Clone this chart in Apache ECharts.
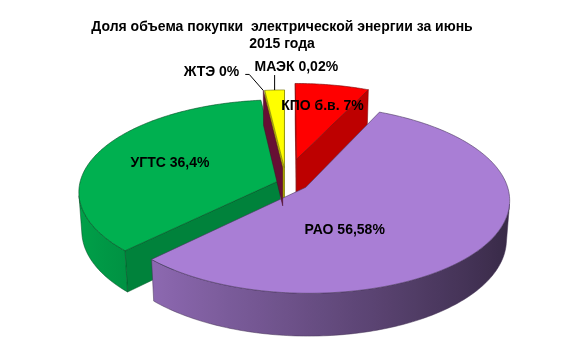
<!DOCTYPE html>
<html>
<head>
<meta charset="utf-8">
<script src="https://cdn.jsdelivr.net/npm/echarts@6/dist/echarts.min.js"></script>
<style>
html, body { margin: 0; padding: 0; background: #fff; }
#chart { width: 574px; height: 352px; }
</style>
</head>
<body>
<div id="chart"></div>
<script>
// данные диаграммы (по часовой стрелке от 12 часов)
const names = ['КПО б.в.', 'РАО', 'УГТС', 'ЖТЭ', 'МАЭК']
const values = [7, 56.58, 36.4, 0, 0.02]
const titleText = 'Доля объема покупки  электрической энергии за июнь\n2015 года'

// оформление
const colors = ['#ff0000', '#a97ed5', '#00b050', '#8a1446', '#ffff00']
const explode = [0.25, 0.12, 0.03, 0.15, 0.15]
// подписи: r - доля радиуса, angle - угол (null = середина сектора), leader - выноска
const labelCfg = [
  { r: 0.7, angle: null },
  { r: 0.47, angle: 158 },
  { r: 0.6, angle: null },
  { leader: [[-14, -16], [-18, -16]], align: 'right', dx: -24, dy: -18 },
  { leader: [[0, -15]], align: 'left', dx: -20, dy: -23 }
]
const view = { cx: 286, cy: 181, k: 200, dist: 7, tilt: 27, depth: 0.22, minAngle: 6.5 }

const rad = d => d * Math.PI / 180

function project(X, Y, Z) {
  const a = rad(view.tilt)
  const yc = Y * Math.cos(a) - Z * Math.sin(a)
  const zc = view.dist - Y * Math.sin(a) - Z * Math.cos(a)
  const s = view.k * view.dist / zc
  return [view.cx + X * s, view.cy - yc * s]
}

function shade(hex, f) {
  const n = parseInt(hex.slice(1), 16)
  const r = Math.min(255, Math.round(((n >> 16) & 255) * f))
  const g = Math.min(255, Math.round(((n >> 8) & 255) * f))
  const b = Math.min(255, Math.round((n & 255) * f))
  return 'rgb(' + r + ',' + g + ',' + b + ')'
}

// углы секторов; ненулевым маленьким - минимальный угол, нулевой - только грань
function sliceAngles() {
  const total = values.reduce((a, b) => a + b, 0)
  const isSmall = v => v > 0 && v / total * 360 < view.minAngle
  let small = 0
  let rest = 0
  values.forEach(v => {
    if (isSmall(v)) small++
    else rest += v
  })
  const free = 360 - small * view.minAngle
  let start = 0
  return values.map(v => {
    const span = isSmall(v) ? view.minAngle : v / rest * free
    const s = { start: start, end: start + span, mid: start + span / 2 }
    start += span
    return s
  })
}
const slices = sliceAngles()
// порядок отрисовки: от дальних к ближним, нулевые грани - поверх
const depthKey = i => (slices[i].end - slices[i].start < 0.5 ? 10 : -Math.cos(rad(slices[i].mid)))
const order = slices.map((s, i) => i).sort((a, b) => depthKey(a) - depthKey(b))
const rank = []
order.forEach((idx, r) => { rank[idx] = r })

function offset(i) {
  const m = rad(slices[i].mid)
  return [explode[i] * Math.sin(m), -explode[i] * Math.cos(m)]
}
function pt(i, th, r, Y) {
  const o = offset(i)
  const t = rad(th)
  return project(o[0] + r * Math.sin(t), Y, o[1] - r * Math.cos(t))
}
// видна ли грань с нормалью в плоскости круга
function facing(nx, nz, px, pz) {
  const a = rad(view.tilt)
  return (0 - px) * nx + (view.dist * Math.cos(a) - pz) * nz > 0
}
function wallShade(t) {
  return 0.62 - 0.3 * Math.sin(rad(t))
}

function formatValue(v) {
  return String(v).replace('.', ',') + '%'
}

function renderItem(params, api) {
  const i = params.dataIndex
  const s = slices[i]
  const c = colors[i]
  const base = rank[i] * 10
  const h = -view.depth
  const o = offset(i)
  const children = []

  // боковые радиальные грани
  ;[[s.start, s.start - 90], [s.end, s.end + 90]].forEach(e => {
    const phi = rad(e[1])
    if (!facing(Math.sin(phi), -Math.cos(phi), o[0], o[1])) return
    children.push({
      type: 'polygon',
      z2: base,
      shape: { points: [pt(i, e[0], 0, 0), pt(i, e[0], 1, 0), pt(i, e[0], 1, h), pt(i, e[0], 0, h)] },
      style: { fill: shade(c, 0.74), stroke: shade(c, 0.5), lineWidth: 0.5 }
    })
  })

  if (s.end - s.start > 0.5) {
    // внешняя стенка: видимые участки дуги
    const vis = []
    for (let t = s.start; t <= s.end + 0.001; t += 0.5) {
      const tr = rad(t)
      vis.push([t, facing(Math.sin(tr), -Math.cos(tr), o[0] + Math.sin(tr), o[1] - Math.cos(tr))])
    }
    const segs = []
    let cur = null
    vis.forEach(v => {
      if (v[1]) {
        if (!cur) { cur = [v[0], v[0]]; segs.push(cur) }
        cur[1] = v[0]
      } else cur = null
    })
    segs.forEach(sg => {
      if (sg[1] - sg[0] < 0.5) return
      const topPts = []
      const botPts = []
      const samples = []
      for (let t = sg[0]; t <= sg[1] + 0.001; t += 1) samples.push(Math.min(t, sg[1]))
      if (samples[samples.length - 1] < sg[1]) samples.push(sg[1])
      samples.forEach(t => {
        topPts.push(pt(i, t, 1, 0))
        botPts.push(pt(i, t, 1, h))
      })
      const xs = topPts.map(p => p[0])
      const x0 = Math.min.apply(null, xs)
      const x1 = Math.max.apply(null, xs)
      const stops = []
      for (let k = 0; k < samples.length; k += 4) {
        stops.push({ offset: x1 > x0 ? (topPts[k][0] - x0) / (x1 - x0) : 0, color: shade(c, wallShade(samples[k])) })
      }
      stops.sort((a, b) => a.offset - b.offset)
      children.push({
        type: 'polygon',
        z2: base + 1,
        shape: { points: topPts.concat(botPts.reverse()) },
        style: {
          fill: { type: 'linear', x: x0, y: 0, x2: x1, y2: 0, global: true, colorStops: stops },
          stroke: shade(c, 0.4),
          lineWidth: 0.5
        }
      })
    })

    // верхняя грань
    const top = [pt(i, s.start, 0, 0)]
    for (let t = s.start; t < s.end; t += 1) top.push(pt(i, t, 1, 0))
    top.push(pt(i, s.end, 1, 0))
    children.push({
      type: 'polygon',
      z2: base + 2,
      shape: { points: top },
      style: { fill: c, stroke: shade(c, 0.45), lineWidth: 0.6 }
    })
  }

  // подпись
  const lc = labelCfg[i]
  const text = names[i] + ' ' + formatValue(api.value(1))
  const font = 'bold 14px "Liberation Sans", Arial, sans-serif'
  if (lc.leader) {
    const p0 = pt(i, s.mid, 1, 0)
    const pts = [p0].concat(lc.leader.map(d => [p0[0] + d[0], p0[1] + d[1]]))
    children.push({ type: 'polyline', z2: 99, shape: { points: pts }, style: { stroke: '#000', lineWidth: 1, fill: null } })
    children.push({
      type: 'text', z2: 100, x: p0[0] + lc.dx, y: p0[1] + lc.dy,
      style: { text: text, font: font, fill: '#000', align: lc.align, verticalAlign: 'middle' }
    })
  } else {
    const p = pt(i, lc.angle == null ? s.mid : lc.angle, lc.r, 0)
    children.push({
      type: 'text', z2: 100, x: p[0], y: p[1],
      style: { text: text, font: font, fill: '#000', align: 'center', verticalAlign: 'middle' }
    })
  }
  return { type: 'group', children: children }
}

const chart = echarts.init(document.getElementById('chart'))
chart.setOption({
  animation: false,
  title: {
    text: titleText,
    left: 277,
    top: 14,
    textAlign: 'center',
    textStyle: { fontSize: 14, fontWeight: 'bold', fontFamily: 'Liberation Sans', lineHeight: 17, color: '#000' }
  },
  series: [{
    type: 'custom',
    coordinateSystem: 'none',
    renderItem: renderItem,
    data: values.map((v, i) => [i, v])
  }]
})
</script>
</body>
</html>
